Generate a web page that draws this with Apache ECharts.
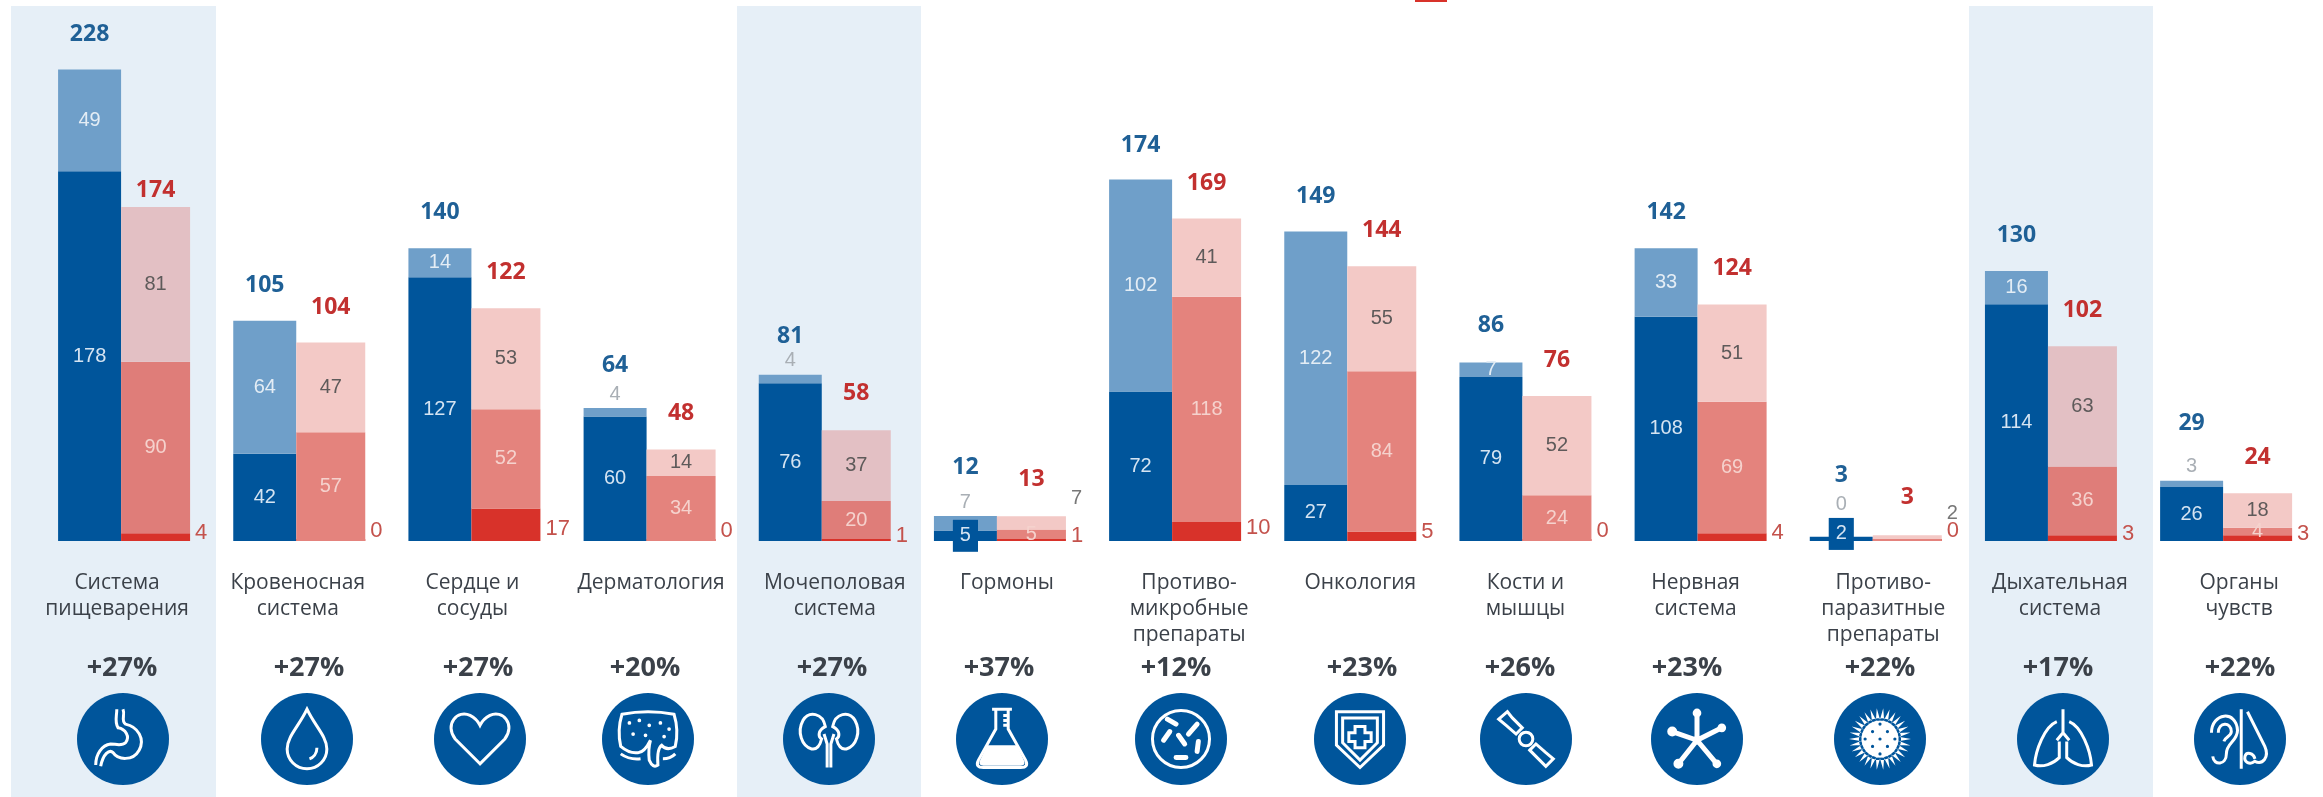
<!DOCTYPE html>
<html>
<head>
<meta charset="utf-8">
<title>Препараты по терапевтическим группам</title>
<style>
  html, body { margin: 0; padding: 0; background: #fff; }
  #main { width: 2323px; height: 797px; }
</style>
<script src="https://cdn.jsdelivr.net/npm/echarts@6/dist/echarts.min.js"></script>
</head>
<body>
<div id="main"></div>
<script>
  const categories = ['Система\nпищеварения', 'Кровеносная\nсистема', 'Сердце и\nсосуды', 'Дерматология',
    'Мочеполовая\nсистема', 'Гормоны', 'Противо-\nмикробные\nпрепараты', 'Онкология', 'Кости и\nмышцы',
    'Нервная\nсистема', 'Противо-\nпаразитные\nпрепараты', 'Дыхательная\nсистема', 'Органы\nчувств']
  const growth = ['+27%', '+27%', '+27%', '+20%', '+27%', '+37%', '+12%', '+23%', '+26%', '+23%', '+22%', '+17%', '+22%']

  const blueDark = [178, 42, 127, 60, 76, 5, 72, 27, 79, 108, 2, 114, 26]
  const blueLight = [49, 64, 14, 4, 4, 7, 102, 122, 7, 33, 0, 16, 3]
  const blueTotal = [228, 105, 140, 64, 81, 12, 174, 149, 86, 142, 3, 130, 29]
  const redStrong = [4, 0, 17, 0, 1, 1, 10, 5, 0, 4, 0, 3, 3]
  const redMid = [90, 57, 52, 34, 20, 5, 118, 84, 24, 69, 1, 36, 4]
  const redLight = [81, 47, 53, 14, 37, 7, 41, 55, 52, 51, 2, 63, 18]
  const redTotal = [174, 104, 122, 48, 58, 13, 169, 144, 76, 124, 3, 102, 24]

  // layout of the text and icons under the bars
  const nameShift = [-7, -1.5, -2, 1.5, 10, 7, 14, 10, 0, -5, 7.5, 9, 13]
  const growthX = [122, 309, 478, 645, 832, 999, 1176, 1362, 1520, 1687, 1880, 2058, 2240]
  const iconX = [123, 307, 480, 648, 829, 1002, 1181, 1360, 1526, 1697, 1880, 2063, 2240]
  const blueTotalGap = [24, 24, 24, 31, 27, 37, 23, 24, 25, 24, 50, 24, 46]
  const redTotalGap = [5, 24, 24, 24, 25, 25, 24, 24, 24, 24, 26, 24, 24]
  const shaded = [0, 4, 11]
  const blueOutside = [3, 4, 5, 10, 12]

  const NARROW = '"Liberation Sans Narrow", "Liberation Sans", sans-serif'
  const SANS = '"Open Sans", "Noto Sans", sans-serif'
  const DARK = '#00559b'

  function pick (arr, fn) {
    return arr.map(function (v, i) { return fn(v, i) })
  }

  function shadedColor (plain, onShade) {
    return function (p) { return shaded.indexOf(p.dataIndex) >= 0 ? onShade : plain }
  }

  const numLabel = { show: true, fontFamily: NARROW, fontSize: 20, position: 'inside' }

  const series = [
    {
      name: 'blue dark', type: 'bar', stack: 'blue', yAxisIndex: 0, barWidth: 63, barGap: 0,
      itemStyle: { color: DARK },
      data: pick(blueDark, function (v, i) {
        if (v > 5) return v
        return {
          value: v,
          label: { backgroundColor: DARK, padding: [6, 7], offset: [0, v < 5 ? -5 : 0] }
        }
      }),
      label: Object.assign({}, numLabel, { color: '#d5e4f2' })
    },
    {
      name: 'blue light', type: 'bar', stack: 'blue', yAxisIndex: 0, barWidth: 63,
      itemStyle: { color: '#6f9fc9' },
      data: pick(blueLight, function (v, i) {
        if (blueOutside.indexOf(i) < 0) return v
        return { value: v, label: { position: 'top', distance: i === 10 ? 22 : 4, color: '#a9afb5' } }
      }),
      label: Object.assign({}, numLabel, { color: '#e4edf5' })
    },
    {
      name: 'blue total', type: 'bar', stack: 'blue', yAxisIndex: 0, barWidth: 63,
      itemStyle: { color: 'transparent' },
      data: pick(blueTotal, function (v, i) {
        return { value: 0, total: v, label: { distance: blueTotalGap[i] } }
      }),
      label: {
        show: true, position: 'top', fontFamily: SANS, fontWeight: 700, fontSize: 23, color: '#1f6096',
        formatter: function (p) { return blueTotal[p.dataIndex] }
      }
    },
    {
      name: 'red strong', type: 'bar', stack: 'red', yAxisIndex: 1, barWidth: 69, barMinHeight: 2,
      itemStyle: { color: '#d8322a' },
      data: pick(redStrong, function (v) {
        return { value: v, label: { offset: [0, v === 0 ? -9 : (v > 12 ? 4 : -4)] } }
      }),
      label: { show: true, position: 'right', distance: 5, fontFamily: NARROW, fontSize: 22, color: '#c4524c' }
    },
    {
      name: 'red mid', type: 'bar', stack: 'red', yAxisIndex: 1, barWidth: 69,
      itemStyle: { color: shadedColor('#e4837d', '#df7d79') },
      data: pick(redMid, function (v, i) {
        return i === 10 ? { value: v, label: { show: false } } : v
      }),
      label: Object.assign({}, numLabel, { color: '#f5d2cd' })
    },
    {
      name: 'red light', type: 'bar', stack: 'red', yAxisIndex: 1, barWidth: 69,
      itemStyle: { color: shadedColor('#f3c9c6', '#e3c0c4') },
      data: pick(redLight, function (v, i) {
        if (i !== 5 && i !== 10) return v
        return { value: v, label: { position: 'right', distance: 5, offset: [0, -24], color: '#777' } }
      }),
      label: Object.assign({}, numLabel, { color: '#5e5a5a' })
    },
    {
      name: 'red total', type: 'bar', stack: 'red', yAxisIndex: 1, barWidth: 69,
      itemStyle: { color: 'transparent' },
      data: pick(redTotal, function (v, i) {
        return { value: 0, total: v, label: { distance: redTotalGap[i] } }
      }),
      label: {
        show: true, position: 'top', fontFamily: SANS, fontWeight: 700, fontSize: 23, color: '#c2302f',
        formatter: function (p) { return redTotal[p.dataIndex] }
      }
    }
  ]

  // icons are drawn in a 100x100 box and scaled down into the circles
  const ICON_SCALE = 0.62
  function dot (x, y, r) {
    return 'M' + (x - r) + ' ' + y + 'a' + r + ' ' + r + ' 0 1 0 ' + (2 * r) + ' 0a' + r + ' ' + r + ' 0 1 0 ' + (-2 * r) + ' 0Z'
  }
  function capsule (x1, y1, x2, y2, r) {
    const a = Math.atan2(y2 - y1, x2 - x1) + Math.PI / 2
    const dx = Math.cos(a) * r
    const dy = Math.sin(a) * r
    return 'M' + (x1 + dx) + ' ' + (y1 + dy) + 'L' + (x2 + dx) + ' ' + (y2 + dy) +
      'A' + r + ' ' + r + ' 0 0 0 ' + (x2 - dx) + ' ' + (y2 - dy) +
      'L' + (x1 - dx) + ' ' + (y1 - dy) + 'A' + r + ' ' + r + ' 0 0 0 ' + (x1 + dx) + ' ' + (y1 + dy) + 'Z'
  }
  function spikes () {
    let d = ''
    for (let i = 0; i < 30; i++) {
      const a = i * Math.PI / 15
      const b = 0.12
      d += 'M' + (50 + 30 * Math.cos(a - b)) + ' ' + (50 + 30 * Math.sin(a - b)) +
        'L' + (50 + 50 * Math.cos(a)) + ' ' + (50 + 50 * Math.sin(a)) +
        'L' + (50 + 30 * Math.cos(a + b)) + ' ' + (50 + 30 * Math.sin(a + b)) + 'Z'
    }
    return d
  }
  const virusDots = [[50, 50], [38, 38], [62, 38], [38, 62], [62, 62], [50, 26], [50, 74], [26, 50], [74, 50]]
    .map(function (p) { return dot(p[0], p[1], 2.6) }).join('')

  const icons = [
    [{ d: 'M50 2C54 12 46 20 54 26C74 30 86 50 76 68C66 86 42 84 34 72C28 66 18 74 14 94M40 2C40 14 36 22 42 32C54 34 62 46 54 56C48 62 38 58 30 58C16 60 6 74 6 92' }],
    [{ d: 'M50 2C38 28 18 46 18 66A32 32 0 0 0 82 66C82 46 62 28 50 2ZM66 64C66 74 60 80 54 82' }],
    [{ d: 'M50 90L10 50C-8 26 14 2 34 12C42 16 47 22 50 28C53 22 58 16 66 12C86 2 108 26 90 50Z' }],
    [{ d: 'M8 10Q50 2 92 10Q100 36 94 62Q80 70 72 60Q64 66 66 92Q58 98 52 84Q50 66 54 52Q44 72 34 72Q20 74 6 62Q0 36 8 10ZM6 74Q20 84 38 82M94 74Q86 82 74 82' },
      { d: dot(20, 24, 3) + dot(36, 20, 3) + dot(52, 28, 3) + dot(70, 24, 3) + dot(84, 34, 3) + dot(26, 42, 3) + dot(46, 44, 3) + dot(76, 46, 3), fill: '#fff' }],
    [{ d: 'M44 30C40 8 18 4 8 20C-2 38 6 62 22 66C32 68 36 58 38 50C32 46 32 36 44 30ZM56 30C60 8 82 4 92 20C102 38 94 62 78 66C68 68 64 58 62 50C68 46 68 36 56 30ZM42 42L47 58L47 96M58 42L53 58L53 96' }],
    [{ d: 'M34 2H66M40 2V34L12 84Q6 96 20 96H80Q94 96 88 84L60 34V2M52 12H60M52 20H60M52 28H60' },
      { d: 'M26 60H74L86 86Q88 93 80 93H20Q12 93 14 86Z', fill: '#fff' }],
    [{ d: dot(50, 50, 46) },
      { d: capsule(28, 18, 42, 26, 4) + capsule(62, 42, 76, 26, 4) + capsule(22, 52, 32, 38, 4) + capsule(46, 44, 56, 58, 4) + capsule(78, 54, 76, 70, 4) + capsule(42, 80, 58, 80, 4), fill: '#fff' }],
    [{ d: 'M12 6H88V60L50 96L12 60ZM22 16H78V56L50 84L22 56ZM42 30H58V40H68V54H58V64H42V54H32V40H42Z' }],
    [{ d: 'M6 18L20 6L28 16L44 32L34 42L18 28ZM56 68L66 58L82 72L94 82L82 94L72 84Z' + dot(50, 50, 11) }],
    [{ d: 'M50 52L50 8M50 52L90 32M50 52L10 38M50 52L20 90M50 52L82 90', lw: 5 },
      { d: dot(50, 8, 7) + dot(90, 32, 7) + dot(10, 38, 8) + dot(20, 90, 8) + dot(82, 90, 7) + dot(50, 52, 7), fill: '#fff' }],
    [{ d: spikes() + dot(50, 50, 34), fill: '#fff' },
      { d: virusDots, fill: DARK }],
    [{ d: 'M50 2V40M50 40L40 52M50 40L60 52M40 22C20 30 6 68 4 92C18 96 34 90 44 80L44 54M60 22C80 30 94 68 96 92C82 96 66 90 56 80L56 54' }],
    [{ d: 'M4 40C4 8 44 2 46 36C46 54 28 56 28 74C28 92 8 94 6 78M15 40C15 22 36 22 36 38C36 46 26 46 24 54M52 2V98M62 6L90 62C98 80 86 92 74 86C66 92 56 88 58 78C60 70 72 72 74 82' }]
  ]

  const graphic = [
    { type: 'rect', x: 1415, y: 0, z: 1, shape: { width: 32, height: 2 }, style: { fill: '#d8322a' } }
  ]
  const bandBoxes = [[11, 205], [737, 184], [1969, 184]]
  bandBoxes.forEach(function (b) {
    graphic.push({ type: 'rect', x: b[0], y: 6, z: 0, shape: { width: b[1], height: 791 }, style: { fill: '#e6eff7' } })
  })
  growth.forEach(function (t, i) {
    graphic.push({
      type: 'text', x: growthX[i], y: 668, z: 3,
      style: { text: t, x: 0, y: 0, align: 'center', verticalAlign: 'middle', fill: '#3b4149', font: '700 27px ' + SANS }
    })
  })
  icons.forEach(function (parts, i) {
    const children = [{ type: 'circle', shape: { cx: 0, cy: 0, r: 46 }, style: { fill: DARK } }]
    parts.forEach(function (part, j) {
      const shapeName = 'icon' + i + '_' + j
      echarts.graphic.registerShape(shapeName, echarts.graphic.extendPath(part.d, {}))
      children.push({
        type: shapeName,
        x: -31,
        y: -31,
        scaleX: ICON_SCALE,
        scaleY: ICON_SCALE,
        style: part.fill
          ? { fill: part.fill, stroke: null }
          : { fill: null, stroke: '#fff', lineWidth: (part.lw || 3) / ICON_SCALE }
      })
    })
    graphic.push({ type: 'group', x: iconX[i], y: 739, z: 3, children: children })
  })

  const chart = echarts.init(document.getElementById('main'))
  chart.setOption({
    animation: false,
    backgroundColor: '#fff',
    grid: { left: 36.5, right: 9.3, top: 1, height: 540 },
    xAxis: {
      type: 'category',
      data: categories.map(function (c, i) {
        const s = nameShift[i]
        return { value: c, textStyle: { padding: s > 0 ? [0, 0, 0, 2 * s] : [0, -2 * s, 0, 0] } }
      }),
      axisLine: { show: false },
      axisTick: { show: false },
      axisLabel: {
        interval: 0, margin: 29, fontFamily: SANS, fontSize: 21, lineHeight: 26, color: '#3b4149'
      }
    },
    yAxis: [
      { type: 'value', min: 0, max: 260, show: false, splitLine: { show: false } },
      { type: 'value', min: 0, max: 283, show: false, splitLine: { show: false } }
    ],
    series: series,
    graphic: graphic
  })
</script>
</body>
</html>
